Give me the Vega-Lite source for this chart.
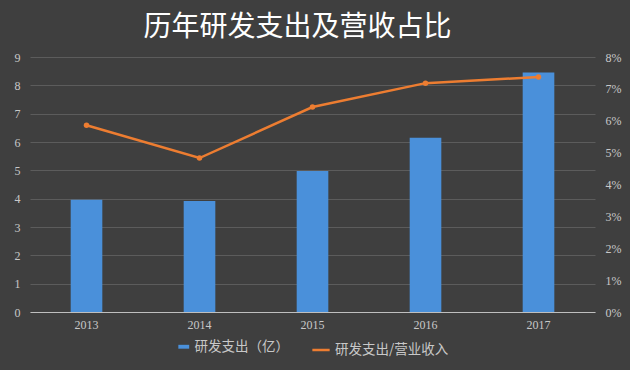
{
  "$schema": "https://vega.github.io/schema/vega-lite/v6.json",
  "width": 565,
  "height": 255,
  "autosize": {"type": "none"},
  "padding": {"left": 30, "top": 57, "right": 35, "bottom": 58},
  "background": "#3f3f3f",
  "config": {"view": {"stroke": null}, "legend": {"layout": {"bottom": {"anchor": "middle", "direction": "horizontal", "margin": 22}}}},
  "title": {"text": "历年研发支出及营收占比", "color": "#ffffff", "fontSize": 28, "font": "Noto Sans CJK SC", "fontWeight": "normal", "offset": 9, "anchor": "middle", "dx": -15},
  "data": {"values": [
    {"year": "2013", "rd": 3.96, "ratio": 0.0586},
    {"year": "2014", "rd": 3.92, "ratio": 0.0483},
    {"year": "2015", "rd": 4.98, "ratio": 0.0643},
    {"year": "2016", "rd": 6.15, "ratio": 0.0718},
    {"year": "2017", "rd": 8.45, "ratio": 0.0737}
  ]},
  "encoding": {
    "x": {"field": "year", "type": "ordinal", "title": null,
      "scale": {"paddingInner": 0, "paddingOuter": 0},
      "axis": {"labelAngle": 0, "labelFont": "Liberation Serif", "labelFontSize": 12, "labelColor": "#c8c8c8", "domainColor": "#bfbfbf", "domainWidth": 1, "ticks": false, "labelPadding": 7, "grid": false}}
  },
  "layer": [
    {
      "mark": {"type": "bar", "width": {"band": 0.28}},
      "encoding": {
        "y": {"field": "rd", "type": "quantitative", "title": null,
          "scale": {"domain": [0, 9]},
          "axis": {"values": [0,1,2,3,4,5,6,7,8,9], "labelFont": "Liberation Serif", "labelFontSize": 12, "labelColor": "#c8c8c8", "domain": false, "ticks": false, "labelPadding": 10, "gridColor": "#5c5c5c", "gridWidth": 1}},
        "fill": {"datum": "研发支出（亿）", "type": "nominal", "scale": {"range": ["#4a90da"]},
          "legend": {"title": null, "orient": "bottom", "direction": "horizontal", "symbolType": "M-1.4,-0.5H1.4V0.5H-1.4Z", "symbolSize": 60, "labelFont": "Noto Sans CJK SC", "labelFontSize": 13.5, "labelColor": "#c8c8c8", "offset": 10}}
      }
    },
    {
      "encoding": {
        "y": {"field": "ratio", "type": "quantitative", "title": null,
          "scale": {"domain": [0, 0.08]},
          "axis": {"orient": "right", "values": [0,0.01,0.02,0.03,0.04,0.05,0.06,0.07,0.08], "format": ".0%", "labelFont": "Liberation Serif", "labelFontSize": 12, "labelColor": "#c8c8c8", "domain": false, "ticks": false, "labelPadding": 10, "grid": false}}
      },
      "layer": [
        {
          "mark": {"type": "line", "strokeWidth": 2.5},
          "encoding": {
            "stroke": {"datum": "研发支出/营业收入", "type": "nominal", "scale": {"range": ["#ed7d31"]},
              "legend": {"title": null, "orient": "bottom", "direction": "horizontal", "symbolType": "stroke", "symbolStrokeWidth": 2.5, "symbolSize": 300, "labelFont": "Noto Sans CJK SC", "labelFontSize": 13.5, "labelColor": "#c8c8c8", "offset": 10}}
          }
        },
        {
          "mark": {"type": "point", "filled": true, "color": "#ed7d31", "size": 30, "opacity": 1},
          "encoding": {}
        }
      ]
    }
  ],
  "resolve": {"scale": {"y": "independent"}}
}
